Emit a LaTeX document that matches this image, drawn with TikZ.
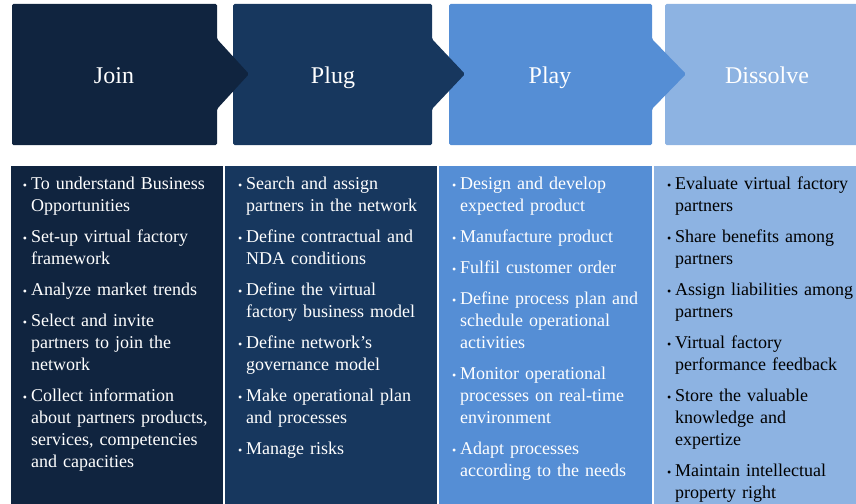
\documentclass[tikz,border=0pt]{standalone}
\usepackage{fontspec}
\setmainfont{Liberation Serif}
\usepackage{enumitem}
\usetikzlibrary{positioning}
\definecolor{joinc}{HTML}{10243F}
\definecolor{plugc}{HTML}{17375E}
\definecolor{playc}{HTML}{558ED5}
\definecolor{dissc}{HTML}{8DB3E2}
\setlist[itemize]{label={\fontsize{12}{12}\selectfont\textbullet},leftmargin=9pt,labelsep=4pt,itemsep=9pt,topsep=0pt,parsep=0pt,partopsep=0pt}

\begin{document}
\begin{tikzpicture}[x=1pt,y=-1pt,
	phase/.style={rounded corners=1.5pt},
	head/.style={anchor=base,text=white,font=\fontsize{24}{28}\selectfont},
	panel/.style={draw=white,line width=1.2pt},
	col/.style={anchor=north west,inner sep=0pt,text width=200pt,align=left,font=\fontsize{18}{22}\selectfont}]
	\useasboundingbox (0,0) rectangle (856,503);
	% top row: phases
	\fill[phase,dissc] (665,4) rectangle (872,145);
	\fill[phase,playc] (449,4) -- (652,4) -- (652,39) -- (686,74) -- (652,109) -- (652,145) -- (449,145) -- cycle;
	\fill[phase,plugc] (233,4) -- (432,4) -- (432,39) -- (465,74) -- (432,109) -- (432,145) -- (233,145) -- cycle;
	\fill[phase,joinc] (12,4) -- (217,4) -- (217,39) -- (249,74) -- (217,109) -- (217,145) -- (12,145) -- cycle;
	\node[head] (join) at (114,83) {Join};
	\node[head] (plug) at (333,83) {Plug};
	\node[head] (play) at (550,83) {Play};
	\node[head] (dissolve) at (767,83) {Dissolve};
	% bottom row: activities
	\filldraw[panel,fill=joinc] (10,165) rectangle (224,510);
	\filldraw[panel,fill=plugc] (224,165) rectangle (438,510);
	\filldraw[panel,fill=playc] (438,165) rectangle (653,510);
	\filldraw[panel,fill=dissc] (653,165) rectangle (870,510);
	\node[col,text=white] (joinlist) at (22,167) {%
		\begin{itemize}
		\item To understand Business\\Opportunities
		\item Set-up virtual factory\\framework
		\item Analyze market trends
		\item Select and invite\\partners  to join the\\network
		\item Collect information\\about partners products,\\services, competencies\\and capacities
		\end{itemize}};
	\node[col,text=white] (pluglist) at (237,167) {%
		\begin{itemize}
		\item Search and assign\\partners in the network
		\item Define contractual and\\NDA conditions
		\item Define the virtual\\factory business model
		\item Define network's\\governance model
		\item Make operational plan\\and processes
		\item Manage risks
		\end{itemize}};
	\node[col,text=white] (playlist) at (451,167) {%
		\begin{itemize}
		\item Design and develop\\expected product
		\item Manufacture product
		\item Fulfil  customer order
		\item Define process plan and\\schedule operational\\activities
		\item Monitor operational\\processes on real-time\\environment
		\item Adapt processes\\according to the needs
		\end{itemize}};
	\node[col,text=black] (dissolvelist) at (666,167) {%
		\begin{itemize}
		\item Evaluate virtual  factory\\partners
		\item Share benefits among\\partners
		\item Assign liabilities  among\\partners
		\item Virtual  factory\\performance feedback
		\item Store the valuable\\knowledge and\\expertize
		\item Maintain intellectual\\property right
		\end{itemize}};
\end{tikzpicture}
\end{document}
